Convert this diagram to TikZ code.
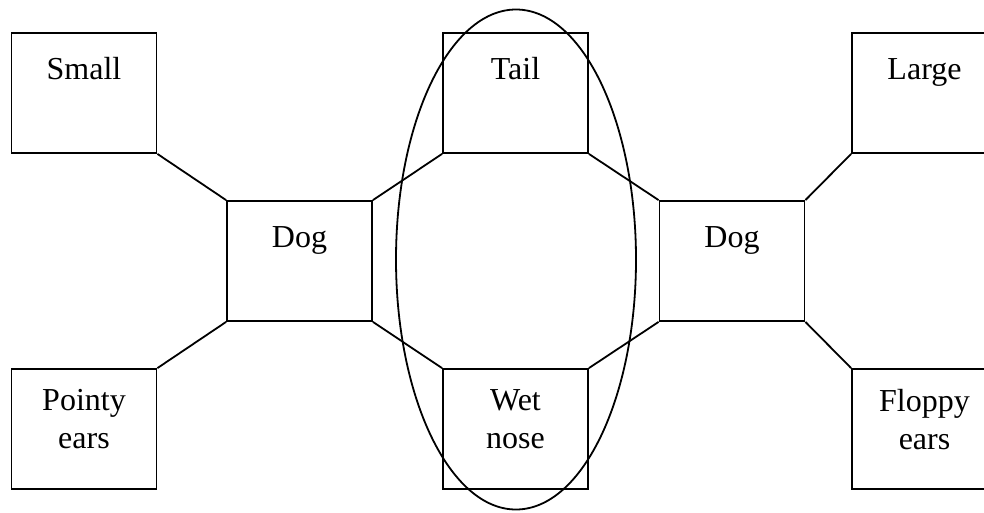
\documentclass[tikz,border=0pt]{standalone}
\usepackage{fontspec}
\setmainfont{Liberation Serif}
\usetikzlibrary{positioning,shapes.geometric}

\begin{document}
\begin{tikzpicture}[x=1pt, y=-1pt,
  every node/.style={font=\fontsize{32}{38}\selectfont},
  box/.style ={draw, line width=1.8pt, minimum width=145pt, minimum height=120pt, inner sep=0pt},
  txt/.style ={anchor=north, inner sep=0pt, align=center, yshift=-21pt, execute at begin node=\strut},
  link/.style={draw, line width=1.8pt}]
\useasboundingbox (0,0) rectangle (984,512);
\node[box, label={[txt]north:Small}]  (small)  at (84,93)    {};
\node[box, label={[txt]north:Tail}]   (tail)   at (515.5,93) {};
\node[box, label={[txt]north:Large}]  (large)  at (924.5,93) {};
\node[box, label={[txt]north:Dog}]    (dogL)   at (299.5,261) {};
\node[box, label={[txt]north:Dog}]    (dogR)   at (732,261)  {};
\node[box, label={[txt]north:Pointy\\ears}] (pointy) at (84,429)    {};
\node[box, label={[txt]north:Wet\\nose}]    (nose)   at (515.5,429) {};
\node[box, label={[txt]north:Floppy\\ears}] (floppy) at (924.5,429) {};
\node[draw, ellipse, line width=1.8pt, minimum width=240pt, minimum height=500pt] (ring) at (516,259.5) {};
\draw[link] (small.south east) -- (dogL.north west);
\draw[link] (pointy.north east) -- (dogL.south west);
\draw[link] (dogL.north east) -- (tail.south west);
\draw[link] (dogL.south east) -- (nose.north west);
\draw[link] (tail.south east) -- (dogR.north west);
\draw[link] (nose.north east) -- (dogR.south west);
\draw[link] (dogR.north east) -- (large.south west);
\draw[link] (dogR.south east) -- (floppy.north west);
\end{tikzpicture}
\end{document}
